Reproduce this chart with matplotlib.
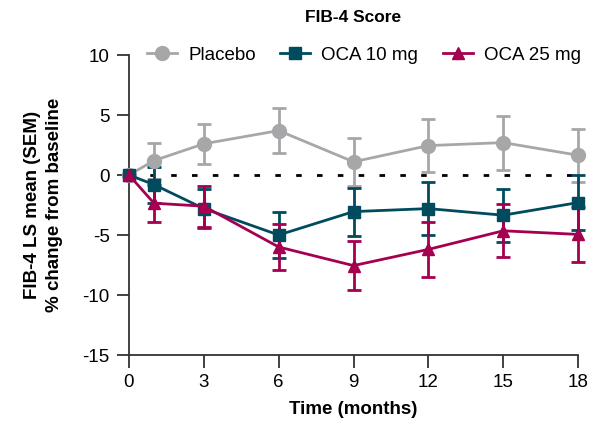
import numpy as np
import matplotlib
matplotlib.use("Agg")
import matplotlib.pyplot as plt
from matplotlib.lines import Line2D

plt.rcParams['font.family'] = ['Liberation Sans', 'DejaVu Sans']
plt.rcParams['axes.unicode_minus'] = False

months = [0, 1, 3, 6, 9, 12, 15, 18]

placebo = [0, 1.2, 2.6, 3.7, 1.1, 2.45, 2.7, 1.65]
placebo_sem = [0, 1.5, 1.65, 1.9, 2.0, 2.2, 2.25, 2.2]

oca10 = [0, -0.8, -2.8, -5.0, -3.05, -2.8, -3.35, -2.3]
oca10_sem = [0, 1.5, 1.65, 1.9, 2.0, 2.2, 2.2, 2.3]

oca25 = [0, -2.35, -2.6, -6.0, -7.55, -6.2, -4.65, -4.95]
oca25_sem = [0, 1.55, 1.7, 1.95, 2.05, 2.3, 2.2, 2.3]

grey = '#A7A7A9'
teal = '#004C5E'
crimson = '#A50050'

fig = plt.figure(figsize=(5.9, 4.22), dpi=100)
ax = fig.add_axes([129/590, 1 - 355/422, 449/590, 300/422])

ax.plot([0, 18], [0, 0], color='black', linestyle=(0, (2, 5.5)), linewidth=2, zorder=1)

series = [(placebo, placebo_sem, grey, 'o', 10, 'Placebo'),
          (oca10, oca10_sem, teal, 's', 9, 'OCA 10 mg'),
          (oca25, oca25_sem, crimson, '^', 9, 'OCA 25 mg')]
handles = []
for y, err, col, mk, ms, lab in series:
    ax.errorbar(months, y, yerr=err, color=col, marker=mk, markersize=ms,
                linewidth=2, elinewidth=2, capsize=5, capthick=2,
                clip_on=False, zorder=3)
    handles.append(Line2D([], [], color=col, marker=mk, markersize=ms,
                          linewidth=2, label=lab))

ax.set_xlim(0, 18)
ax.set_ylim(-15, 10)
ax.set_xticks([0, 3, 6, 9, 12, 15, 18])
ax.set_yticks([10, 5, 0, -5, -10, -15])
ax.tick_params(labelsize=13.5, width=1.3, length=9, color='#333333', pad=5)
for s in ['top', 'right']:
    ax.spines[s].set_visible(False)
for s in ['left', 'bottom']:
    ax.spines[s].set_linewidth(1.3)
    ax.spines[s].set_color('#333333')

ax.set_xlabel('Time (months)', fontsize=13.5, fontweight='bold', labelpad=7)
ax.set_ylabel('FIB-4 LS mean (SEM)\n% change from baseline', fontsize=13.5,
              fontweight='bold', linespacing=1.35, labelpad=14)
fig.text(353/590, 1 - 17/422, 'FIB-4 Score', fontsize=12.5, fontweight='bold',
         ha='center', va='center')

ax.legend(handles=handles, loc='center', bbox_to_anchor=(0.523, 1.0),
          ncol=3, frameon=False, fontsize=13.5, handlelength=1.6,
          columnspacing=1.3, handletextpad=0.6, borderpad=0)

fig.savefig('out.png', dpi=100)
